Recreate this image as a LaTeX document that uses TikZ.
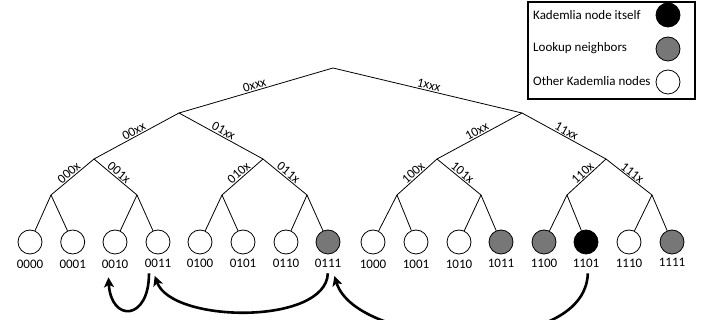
\documentclass[tikz,border=0pt]{standalone}
\usepackage{fontspec}
\setmainfont{Carlito}[Scale=1.3]
\usetikzlibrary{arrows.meta, positioning}
\definecolor{kadblack}{HTML}{000000}
\definecolor{kadgray}{HTML}{777777}

\begin{document}
\begin{tikzpicture}[
    x=1pt, y=-1pt,
    >=Stealth,
    branch/.style={draw=kadblack, line width=0.8pt},
    bucketlabel/.style={midway, sloped, above, inner sep=1pt},
    peer/.style={
        circle, draw=kadblack, line width=0.8pt, minimum size=24pt,
        inner sep=0pt, fill=white
    },
    lookup/.style={peer, fill=kadgray},
    itself/.style={peer, fill=kadblack},
    idlabel/.style={inner sep=1pt},
    hop/.style={
        ->, >={Stealth[length=10pt, width=10pt, inset=2.5pt]},
        line width=2.6pt, draw=kadblack,
        shorten <=5pt, shorten >=8pt
    },
    legendbox/.style={draw=kadblack, line width=1.2pt, fill=white},
    legendtext/.style={anchor=west, inner sep=0pt},
]

\useasboundingbox (0,0) rectangle (705,320);

% ===================================================================
% PREFIX TREE
% ===================================================================

    % Inner points of the tree
    \coordinate (root) at (333, 68);
    \coordinate (p0) at (179, 113);
    \coordinate (p1) at (522, 113);
    \coordinate (p00) at (94, 159);
    \coordinate (p01) at (263, 159);
    \coordinate (p10) at (437, 159);
    \coordinate (p11) at (606, 159);
    \coordinate (p000) at (51, 195);
    \coordinate (p001) at (137, 195);
    \coordinate (p010) at (222, 195);
    \coordinate (p011) at (307, 195);
    \coordinate (p100) at (397, 195);
    \coordinate (p101) at (481, 195);
    \coordinate (p110) at (567, 195);
    \coordinate (p111) at (652, 195);

    % Leaves: the 16 node IDs
    \node[peer]   (n0000) at (30, 242) {};
    \node[peer]   (n0001) at (72.7, 242) {};
    \node[peer]   (n0010) at (115, 242) {};
    \node[peer]   (n0011) at (158, 242) {};
    \node[peer]   (n0100) at (200, 242) {};
    \node[peer]   (n0101) at (243, 242) {};
    \node[peer]   (n0110) at (286, 242) {};
    \node[lookup] (n0111) at (328, 242) {};
    \node[peer]   (n1000) at (373, 242) {};
    \node[peer]   (n1001) at (416, 242) {};
    \node[peer]   (n1010) at (459, 242) {};
    \node[lookup] (n1011) at (501, 242) {};
    \node[lookup] (n1100) at (544, 242) {};
    \node[itself] (n1101) at (586, 242) {};
    \node[peer]   (n1110) at (629, 242) {};
    \node[lookup] (n1111) at (672, 242) {};

    % ID labels
    \node[idlabel, below=4pt of n0000] (l0000) {0000};
    \node[idlabel, below=4pt of n0001] (l0001) {0001};
    \node[idlabel, below=4pt of n0010] (l0010) {0010};
    \node[idlabel, below=3pt of n0011] (l0011) {0011};
    \node[idlabel, below=3pt of n0100] (l0100) {0100};
    \node[idlabel, below=3pt of n0101] (l0101) {0101};
    \node[idlabel, below=3pt of n0110] (l0110) {0110};
    \node[idlabel, below=3pt of n0111] (l0111) {0111};
    \node[idlabel, below=4pt of n1000] (l1000) {1000};
    \node[idlabel, below=4pt of n1001] (l1001) {1001};
    \node[idlabel, below=4pt of n1010] (l1010) {1010};
    \node[idlabel, below=3pt of n1011] (l1011) {1011};
    \node[idlabel, below=3pt of n1100] (l1100) {1100};
    \node[idlabel, below=3pt of n1101] (l1101) {1101};
    \node[idlabel, below=3pt of n1110] (l1110) {1110};
    \node[idlabel, below=3pt of n1111] (l1111) {1111};

    % Branches with prefixes
    \draw[branch] (p0) -- (root) node[bucketlabel] {0xxx};
    \draw[branch] (root) -- (p1) node[bucketlabel] {1xxx};
    \draw[branch] (p00) -- (p0) node[bucketlabel] {00xx};
    \draw[branch] (p0) -- (p01) node[bucketlabel] {01xx};
    \draw[branch] (p10) -- (p1) node[bucketlabel] {10xx};
    \draw[branch] (p1) -- (p11) node[bucketlabel] {11xx};
    \draw[branch] (p000) -- (p00) node[bucketlabel] {000x};
    \draw[branch] (p00) -- (p001) node[bucketlabel] {001x};
    \draw[branch] (p010) -- (p01) node[bucketlabel] {010x};
    \draw[branch] (p01) -- (p011) node[bucketlabel] {011x};
    \draw[branch] (p100) -- (p10) node[bucketlabel] {100x};
    \draw[branch] (p10) -- (p101) node[bucketlabel] {101x};
    \draw[branch] (p110) -- (p11) node[bucketlabel] {110x};
    \draw[branch] (p11) -- (p111) node[bucketlabel] {111x};

    % Branches to the leaves
    \draw[branch] (p000) -- (n0000);
    \draw[branch] (p000) -- (n0001);
    \draw[branch] (p001) -- (n0010);
    \draw[branch] (p001) -- (n0011);
    \draw[branch] (p010) -- (n0100);
    \draw[branch] (p010) -- (n0101);
    \draw[branch] (p011) -- (n0110);
    \draw[branch] (p011) -- (n0111);
    \draw[branch] (p100) -- (n1000);
    \draw[branch] (p100) -- (n1001);
    \draw[branch] (p101) -- (n1010);
    \draw[branch] (p101) -- (n1011);
    \draw[branch] (p110) -- (n1100);
    \draw[branch] (p110) -- (n1101);
    \draw[branch] (p111) -- (n1110);
    \draw[branch] (p111) -- (n1111);

% ===================================================================
% LOOKUP HOPS
% ===================================================================

    \draw[hop] ([xshift=2pt]l1101.south)
        .. controls +(-3,92) and +(25,80) .. ([xshift=4pt]l0111.south);
    \draw[hop] (l0111.south)
        .. controls +(-2,57) and +(20,55) .. ([xshift=-6pt]l0011.south);
    \draw[hop] ([xshift=-9pt]l0011.south)
        .. controls +(0,53) and +(3,53) .. ([xshift=-7pt]l0010.south);

% ===================================================================
% LEGEND
% ===================================================================

    \node[legendbox, minimum width=167pt, minimum height=97pt] (legend) at (611.5, 50.5) {};

    \node[legendtext] (t-self) at (533, 15) {Kademlia node itself};
    \node[itself] (c-self) at (668, 15) {};

    \node[legendtext] (t-lookup) at (533, 48) {Lookup neighbors};
    \node[lookup] (c-lookup) at (668, 49) {};

    \node[legendtext] (t-other) at (533, 81) {Other Kademlia nodes};
    \node[peer] (c-other) at (668, 82) {};

\end{tikzpicture}
\end{document}
